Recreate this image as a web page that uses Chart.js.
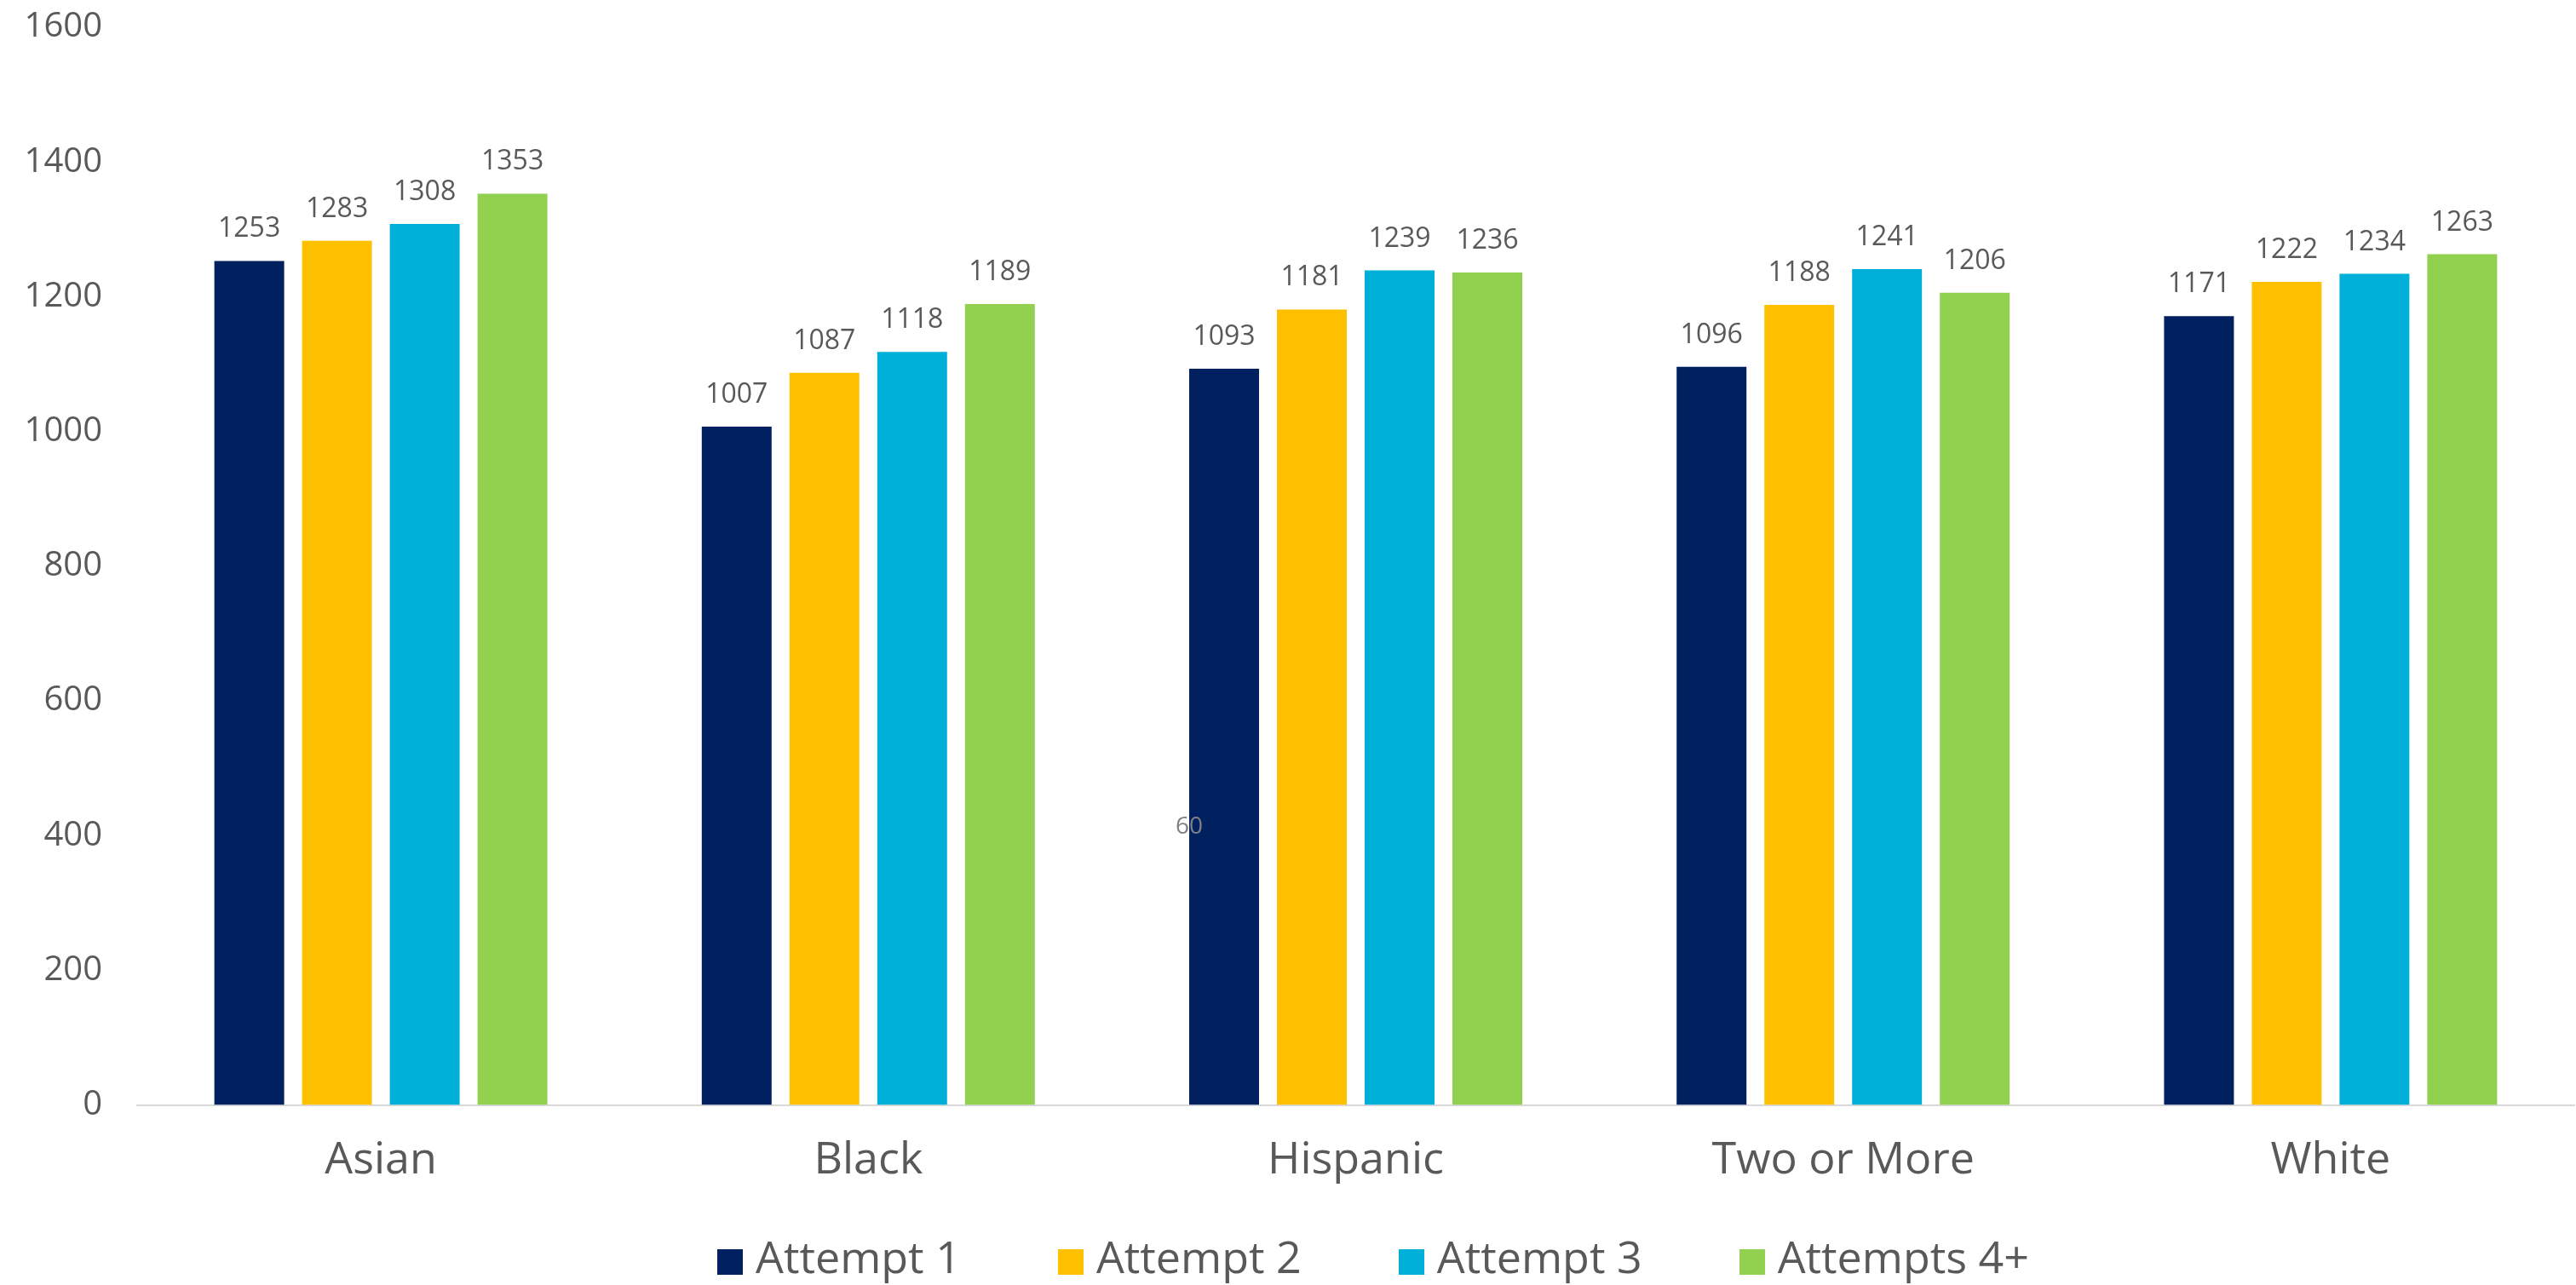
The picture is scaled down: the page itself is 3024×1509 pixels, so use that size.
<!DOCTYPE html>
<html>
<head>
<meta charset="utf-8">
<script src="https://cdn.jsdelivr.net/npm/chart.js@4.4.1/dist/chart.umd.min.js"></script>
<style>
    body { margin: 0; background: #fff; }
    #wrap { position: relative; width: 3024px; height: 1509px; }
    #legend {
        position: absolute; left: 842px; top: 1449px; display: flex;
        font-family: 'Open Sans', sans-serif; font-size: 52px; line-height: 52px; color: #595959;
    }
    .item { display: flex; align-items: flex-start; margin-right: 114px; white-space: nowrap; }
    .box { width: 30px; height: 30px; margin-top: 18px; margin-right: 15px; }
</style>
</head>
<body>
<div id="wrap">
    <canvas id="chart" width="3024" height="1509"></canvas>
    <div id="legend"></div>
</div>
<script>
const categories = ['Asian', 'Black', 'Hispanic', 'Two or More', 'White'];
const attempt1 = [1253, 1007, 1093, 1096, 1171];
const attempt2 = [1283, 1087, 1181, 1188, 1222];
const attempt3 = [1308, 1118, 1239, 1241, 1234];
const attempts4 = [1353, 1189, 1236, 1206, 1263];
const seriesNames = ['Attempt 1', 'Attempt 2', 'Attempt 3', 'Attempts 4+'];
const seriesColors = ['#002060', '#FFC000', '#00B0D8', '#92D050'];
const yMax = 1600;
const yStep = 200;
// stray "60" text that sits on the Hispanic / Attempt 1 bar in the original
const strayNote = { text: '60', category: 2, value: 403 };

Chart.defaults.font.family = "'Open Sans', sans-serif";
Chart.defaults.color = '#595959';

const seriesValues = [attempt1, attempt2, attempt3, attempts4];

// value labels above each bar
const barLabels = {
    id: 'barLabels',
    afterDatasetsDraw(chart) {
        const ctx = chart.ctx;
        ctx.save();
        ctx.font = "32px 'Open Sans', sans-serif";
        ctx.fillStyle = '#595959';
        ctx.textAlign = 'center';
        ctx.textBaseline = 'alphabetic';
        chart.data.datasets.forEach((ds, i) => {
            chart.getDatasetMeta(i).data.forEach((bar, j) => {
                ctx.fillText(String(ds.data[j]), bar.x, bar.y - 28);
            });
        });
        // the stray note
        const bar = chart.getDatasetMeta(0).data[strayNote.category];
        ctx.font = "28px 'Open Sans', sans-serif";
        ctx.fillStyle = '#808080';
        ctx.fillText(strayNote.text, bar.x - bar.width / 2, chart.scales.y.getPixelForValue(strayNote.value));
        ctx.restore();
    }
};

const chart = new Chart(document.getElementById('chart'), {
    type: 'bar',
    data: {
        labels: categories,
        datasets: seriesNames.map((name, i) => ({
            label: name,
            data: seriesValues[i],
            backgroundColor: seriesColors[i],
            barPercentage: 0.796,
            categoryPercentage: 0.72
        }))
    },
    options: {
        responsive: false,
        animation: false,
        layout: { padding: { left: 0, right: 2, top: 32, bottom: 81 } },
        plugins: {
            legend: { display: false },
            tooltip: { enabled: false }
        },
        scales: {
            x: {
                grid: { display: false, drawTicks: false },
                border: { display: true, color: '#d9d9d9', width: 2 },
                ticks: { font: { size: 52 }, color: '#595959', padding: 34 }
            },
            y: {
                min: 0,
                max: yMax,
                grid: { display: false, drawTicks: false },
                border: { display: false },
                ticks: {
                    stepSize: yStep,
                    font: { size: 40 },
                    color: '#595959',
                    padding: 41,
                    callback: v => String(v)
                },
                afterFit: scale => {
                    scale.width = 161;
                    scale.paddingTop = 0;
                    scale.paddingBottom = 0;
                }
            }
        }
    },
    plugins: [barLabels]
});

// legend
const legend = document.getElementById('legend');
seriesNames.forEach((name, i) => {
    const item = document.createElement('div');
    item.className = 'item';
    const box = document.createElement('span');
    box.className = 'box';
    box.style.background = seriesColors[i];
    const label = document.createElement('span');
    label.textContent = name;
    item.appendChild(box);
    item.appendChild(label);
    legend.appendChild(item);
});
</script>
</body>
</html>
